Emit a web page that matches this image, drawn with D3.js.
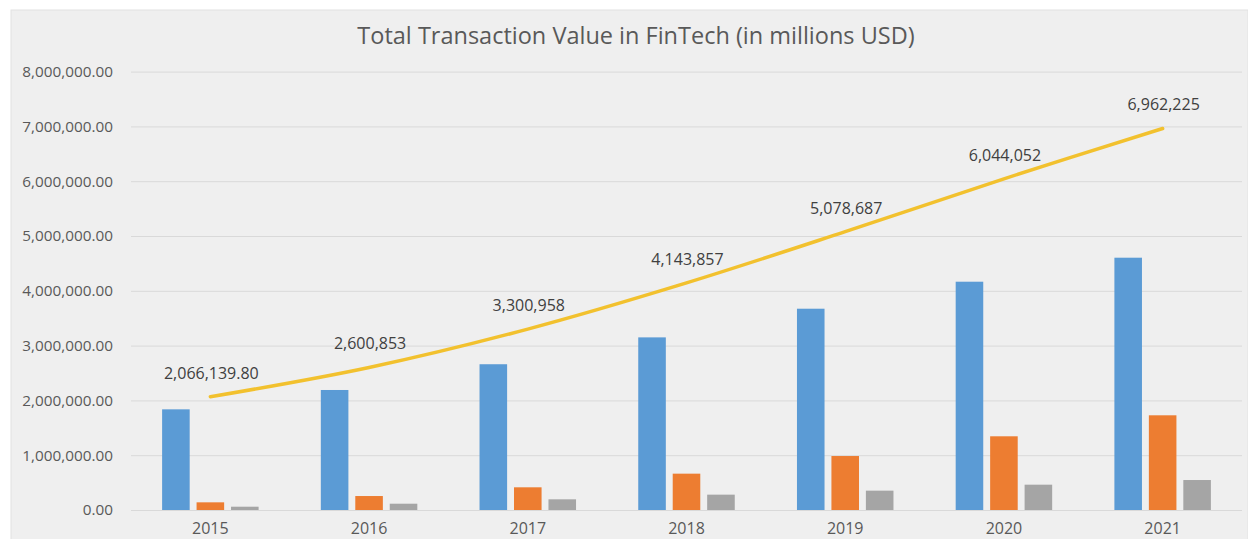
<!DOCTYPE html>
<html lang="en">
<head>
    <meta charset="UTF-8">
    <title>Total Transaction Value in FinTech</title>
    <script src="https://cdn.jsdelivr.net/npm/d3@7"></script>
    <style>
        body { margin: 0; background: white; }
        text { font-family: 'Open Sans', sans-serif; }
        .grid line { stroke: #d9d9d9; stroke-width: 1px; }
    </style>
</head>
<body>
    <div id="chart"></div>
    <script>
        // chart data
        const years = ["2015", "2016", "2017", "2018", "2019", "2020", "2021"];
        const seriesA = [1837000, 2190000, 2660000, 3150000, 3673000, 4166000, 4604000];
        const seriesB = [140000, 255000, 414000, 663000, 985000, 1345000, 1728000];
        const seriesC = [60000, 115000, 195000, 280000, 353000, 462000, 547000];
        const totals = [2066139.80, 2600853, 3300958, 4143857, 5078687, 6044052, 6962225];
        const totalLabels = ["2,066,139.80", "2,600,853", "3,300,958", "4,143,857", "5,078,687", "6,044,052", "6,962,225"];
        const yTicks = [0, 1000000, 2000000, 3000000, 4000000, 5000000, 6000000, 7000000, 8000000];

        const width = 1248;
        const height = 539;
        const colors = ["#5b9bd5", "#ed7d31", "#a5a5a5"];

        const svg = d3.select("#chart").append("svg")
            .attr("width", width)
            .attr("height", height);

        // chart area background
        svg.append("rect")
            .attr("x", 11).attr("y", 10)
            .attr("width", width - 11).attr("height", height)
            .attr("fill", "#efefef")
            .attr("stroke", "#e2e2e2");

        svg.append("text")
            .attr("x", 636).attr("y", 44)
            .attr("text-anchor", "middle")
            .attr("fill", "#595959")
            .style("font-size", "23.5px")
            .text("Total Transaction Value in FinTech (in millions USD)");

        const x = d3.scaleBand()
            .domain(years)
            .range([131, 1242])
            .paddingInner(0.392)
            .paddingOuter(0.196);

        const xInner = d3.scaleBand()
            .domain([0, 1, 2])
            .range([0, x.bandwidth()])
            .paddingInner(0.2);

        const y = d3.scaleLinear()
            .domain([0, 8000000])
            .range([510, 71.6]);

        // gridlines + y labels
        const yAxis = svg.append("g")
            .attr("class", "grid")
            .attr("transform", "translate(131,0)")
            .call(d3.axisLeft(y)
                .tickValues(yTicks)
                .tickSize(-(1242 - 131))
                .tickPadding(18)
                .tickFormat(d3.format(",.2f")));
        yAxis.attr("font-size", 15.3).attr("font-family", "'Open Sans', sans-serif");
        yAxis.select(".domain").remove();
        yAxis.selectAll("text")
            .attr("fill", "#595959");

        // x labels
        const xAxis = svg.append("g")
            .attr("transform", "translate(0,510)")
            .call(d3.axisBottom(x).tickSize(0).tickPadding(13));
        xAxis.attr("font-size", 16).attr("font-family", "'Open Sans', sans-serif");
        xAxis.select(".domain").remove();
        xAxis.selectAll("text")
            .attr("fill", "#595959");

        // bars
        const seriesList = [seriesA, seriesB, seriesC];
        seriesList.forEach((vals, s) => {
            svg.append("g").selectAll("rect")
                .data(vals)
                .enter()
                .append("rect")
                .attr("x", (d, i) => x(years[i]) + xInner(s))
                .attr("y", d => y(d))
                .attr("width", xInner.bandwidth())
                .attr("height", d => y(0) - y(d))
                .attr("fill", colors[s]);
        });

        // total line
        const cx = i => x(years[i]) + x.bandwidth() / 2;
        const line = d3.line()
            .x((d, i) => cx(i))
            .y(d => y(d))
            .curve(d3.curveCatmullRom);

        svg.append("path")
            .datum(totals)
            .attr("d", line)
            .attr("fill", "none")
            .attr("stroke", "#f2c12e")
            .attr("stroke-width", 3.5)
            .attr("stroke-linecap", "round");

        svg.append("g").selectAll("text")
            .data(totals)
            .enter()
            .append("text")
            .attr("x", (d, i) => cx(i) + 1)
            .attr("y", d => y(d) - 18)
            .attr("text-anchor", "middle")
            .attr("fill", "#404040")
            .style("font-size", "16px")
            .text((d, i) => totalLabels[i]);
    </script>
</body>
</html>
